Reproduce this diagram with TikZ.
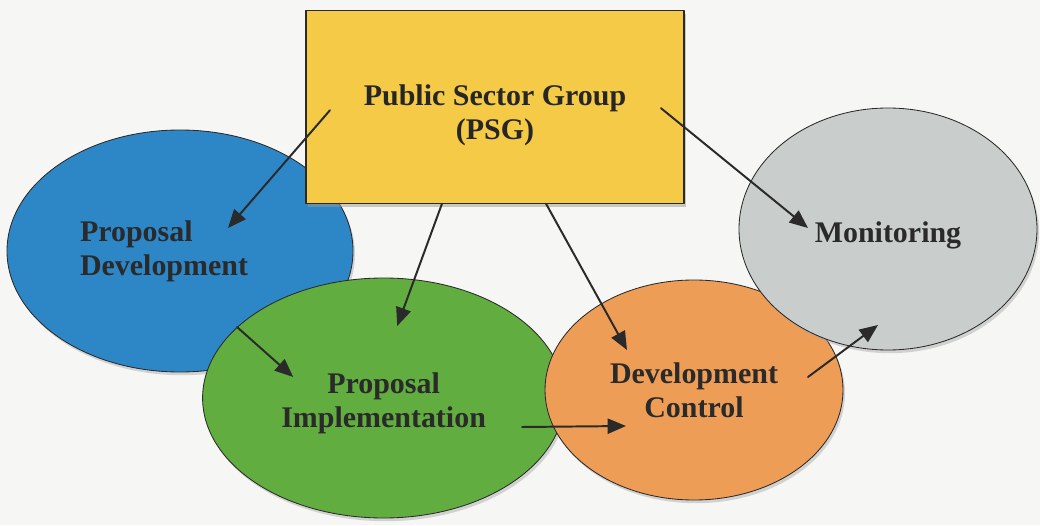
\documentclass[tikz,border=0pt]{standalone}
\usepackage{fontspec}
\setmainfont{Liberation Serif}
\usetikzlibrary{shapes.geometric, arrows.meta, shadows}

\definecolor{psgyellow}{HTML}{F5CA46}
\definecolor{devblue}{HTML}{2D87C7}
\definecolor{impgreen}{HTML}{62AD3F}
\definecolor{ctlorange}{HTML}{EE9D56}
\definecolor{mongray}{HTML}{C9CECC}
\definecolor{paper}{HTML}{F6F6F5}
\definecolor{ink}{HTML}{2A2A2A}

\tikzset{
  stage/.style={ellipse, draw=ink, line width=0.6pt, inner sep=0pt,
    font=\bfseries\fontsize{21.3}{24.2}\selectfont, text=ink, align=center,
    drop shadow={shadow xshift=0.5mm, shadow yshift=-0.8mm, fill=black!35, opacity=0.45}},
  psgbox/.style={rectangle, draw=ink, line width=0.8pt, fill=psgyellow,
    minimum width=9.45cm, minimum height=4.825cm, inner sep=0pt,
    font=\bfseries\fontsize{21.3}{24.2}\selectfont, text=ink!90!black, align=center,
    drop shadow={shadow xshift=0.4mm, shadow yshift=-0.9mm, fill=black!40, opacity=0.5}},
  link/.style={->, draw=ink, line width=1.4pt}
}

\begin{document}
\begin{tikzpicture}[line join=round, line cap=round, >={Triangle[length=4.6mm, width=3.8mm]}]
\fill[paper] (0,0) rectangle (26,13.125);
\useasboundingbox (0,0) rectangle (26,13.125);

% stages, back to front
\node[stage, fill=devblue, minimum width=8.65cm, minimum height=6.05cm,
      text width=5cm, align=left] (dev) at (4.5,6.85) {Proposal\\Development};
\node[psgbox] (psg) at (12.375,10.46) {\rule{0pt}{0.95cm}Public Sector Group\\(PSG)};
\node[stage, fill=impgreen, minimum width=9.05cm, minimum height=6cm] (imp) at (9.59,3.175) {\rule{0pt}{0.8cm}Proposal\\Implementation};
\node[stage, fill=ctlorange, minimum width=7.45cm, minimum height=5.5cm] (ctl) at (17.35,3.375) {Development\\Control};
\node[stage, fill=mongray, minimum width=7.45cm, minimum height=6.05cm] (mon) at (22.2,7.4) {\rule{0pt}{0.85cm}Monitoring};

% links out of the PSG
\draw[link] ([shift={(-4.125,-0.09)}]psg.center) -- ([shift={(1.2,0.575)}]dev.center);
\draw[link] ([xshift=-1.325cm]psg.south) -- ([shift={(0.34,1.8)}]imp.center);
\draw[link] ([xshift=1.275cm]psg.south) -- ([shift={(-1.675,1.0)}]ctl.center);
\draw[link] ([shift={(4.15,-0.04)}]psg.center) -- ([shift={(-2.0,0.025)}]mon.center);

% chain between the stages
\draw[link] ([shift={(1.425,-1.9)}]dev.center) -- ([shift={(-2.26,0.525)}]imp.center);
\draw[link] ([shift={(3.46,-0.725)}]imp.center) -- ([shift={(-1.7,-0.9)}]ctl.center);
\draw[link] ([shift={(2.85,0.325)}]ctl.center) -- ([shift={(-0.25,-2.4)}]mon.center);
\end{tikzpicture}
\end{document}
